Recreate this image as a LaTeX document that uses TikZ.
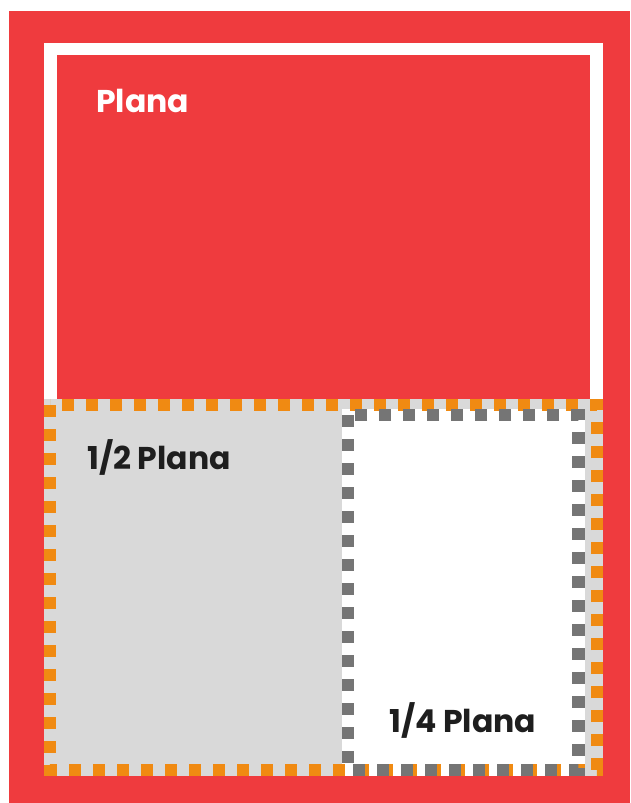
\documentclass[tikz,border=0pt]{standalone}
\usepackage{fontspec}
\setmainfont{Poppins}[BoldFont={* Bold}]
\definecolor{pred}{HTML}{EF3B3E}
\definecolor{porange}{HTML}{F08A12}
\definecolor{pdash}{HTML}{757575}
\definecolor{plight}{HTML}{D9D9D9}
\definecolor{ptext}{HTML}{1E1E1E}
\begin{document}
\begin{tikzpicture}[x=1pt,y=-1pt,
  lbl/.style={font=\bfseries\fontsize{31.5}{33}\selectfont, inner sep=0pt, anchor=base west},
  dashbox/.style={line width=12.5pt, dash pattern=on 12pt off 12pt}]
\useasboundingbox (0,0) rectangle (630,803);
\fill[white] (0,0) rectangle (630,803);
\fill[pred] (9,11) rectangle (630,803);
\fill[white] (44,43) rectangle (603,399);
\fill[pred] (57,55) rectangle (590,399);
\fill[plight] (44,399) rectangle (603,776);
\fill[white] (342,409) rectangle (585,776);
\draw[porange, dashbox] (50,405) rectangle (597,770);
\draw[pdash, dashbox] (348,415) rectangle (578.5,770);
\fill[pred] (9,776) rectangle (630,803);
\node[lbl, text=white] (plana) at (96,112) {Plana};
\node[lbl, text=ptext] (half) at (87,469) {1/2 Plana};
\node[lbl, text=ptext] (quarter) at (389,732) {1/4 Plana};
\end{tikzpicture}
\end{document}
